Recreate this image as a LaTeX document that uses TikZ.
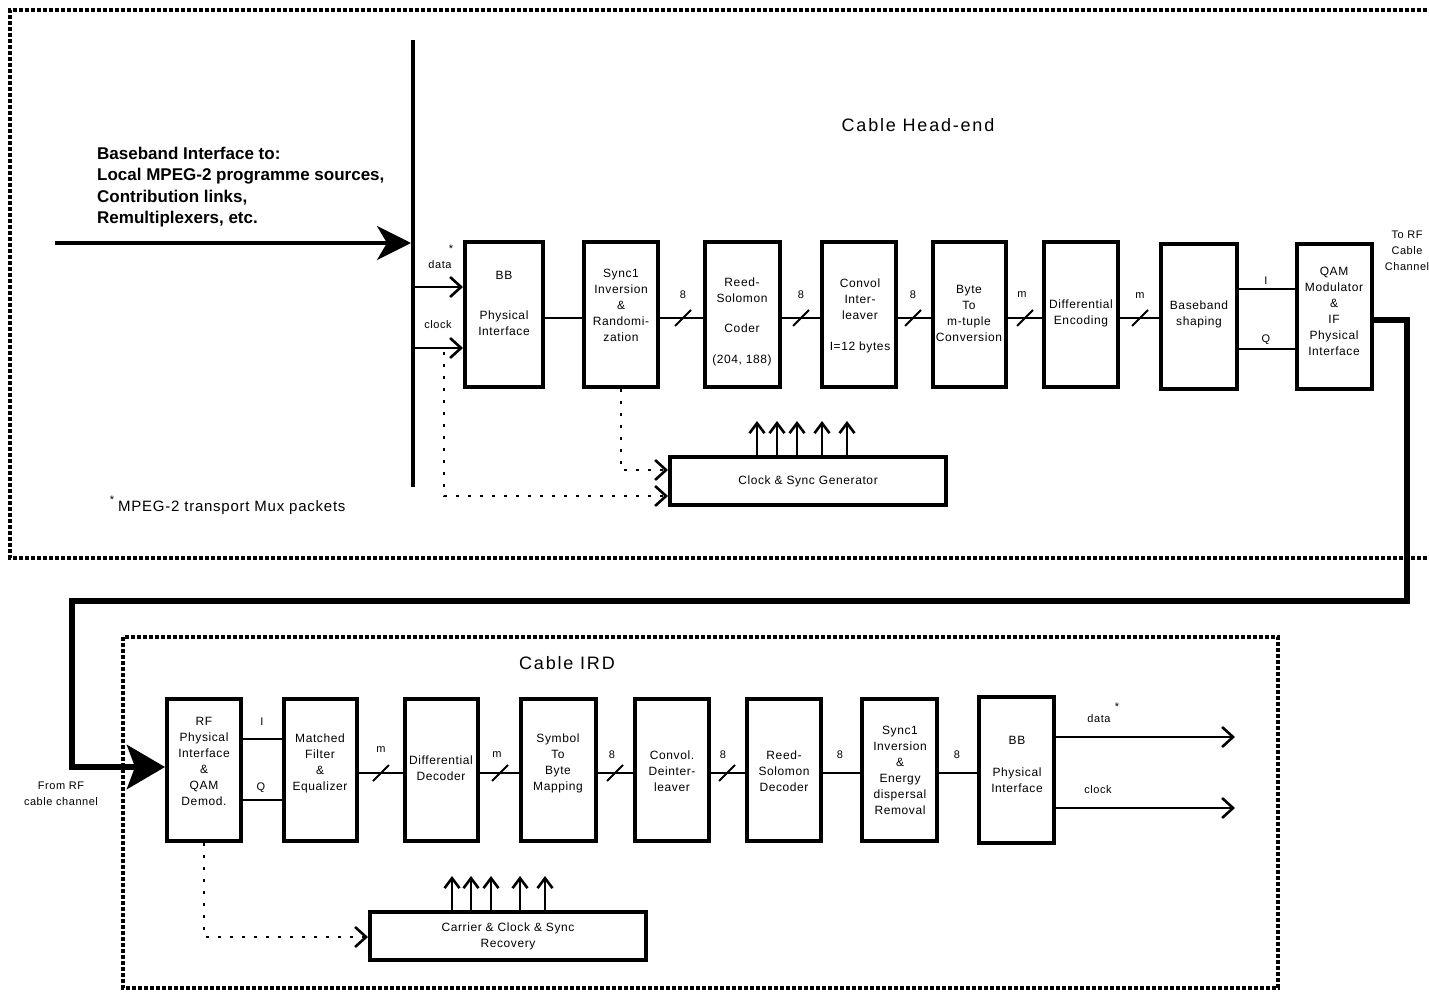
\documentclass[tikz,border=0pt]{standalone}
\usepackage{fontspec}
\setmainfont{Liberation Sans}
\newfontfamily\spfont{Liberation Sans}[LetterSpace=5]
\newfontfamily\ttlfont{Liberation Sans}[LetterSpace=10]
\usetikzlibrary{arrows.meta}
\newcommand\mybox[6]{\node[blk,minimum width={(#4)-(#2)-4},minimum height={(#5)-(#3)-4}] (#1) at ({((#2)+(#4))/2},{((#3)+(#5))/2}) {#6};}
\newcommand\tick[2]{\draw[conn] (#1,#2) ++(-8,8) -- ++(16,-16);}
\begin{document}
\begin{tikzpicture}[x=1pt,y=-1pt,
  blk/.style={draw,line width=4pt,inner sep=0pt,align=center,font=\spfont\fontsize{12}{16}\selectfont},
  txt/.style={align=center,font=\spfont\fontsize{12}{16}\selectfont,inner sep=0pt},
  sm/.style={align=center,font=\spfont\fontsize{11}{16}\selectfont,inner sep=0pt},
  note/.style={font=\spfont\fontsize{15}{16}\selectfont,inner sep=0pt},
  ttl/.style={font=\ttlfont\fontsize{18}{20}\selectfont,inner sep=0pt},
  boldtxt/.style={align=left,font=\bfseries\fontsize{17}{21.5}\selectfont,inner sep=0pt},
  conn/.style={line width=1.8pt},
  barb/.style={-{Straight Barb[length=11pt,width=20pt,line width=2.6pt]}},
  upar/.style={line width=1.5pt,-{Straight Barb[length=10pt,width=15pt,line width=2.6pt]}},
  dotl/.style={line width=1.8pt,dash pattern=on 3pt off 9pt},
  frame/.style={line width=4.5pt,dash pattern=on 4pt off 2pt},
  big/.style={line width=4pt,-{Stealth[length=34pt,width=34pt,inset=10pt]}},
  thk/.style={line width=6pt,line join=miter,-{Stealth[length=38pt,width=44pt,inset=8pt]}},
]
\useasboundingbox (0,0) rectangle (1429,992);
\clip (0,0) rectangle (1429,992);

% frames
\draw[frame] (1445,10) -- (10,10) -- (10,558) -- (1445,558);
\draw[frame] (123,637) rectangle (1278,988);

\node[ttl] (t1) at (918,125) {Cable Head-end};
\node[ttl] (t2) at (567,663) {Cable IRD};

\node[boldtxt,anchor=west] (src) at (97,187) {Baseband Interface to:\\Local MPEG-2 programme sources,\\Contribution links,\\Remultiplexers, etc.};

% bar and input
\coordinate (bartop) at (413,40);
\coordinate (barbot) at (413,487);
\draw[line width=4pt] (bartop) -- (barbot);
\coordinate (in) at (55,243);
\coordinate (bin) at (411,243);
\draw[big] (in) -- (bin);

% top boxes
\mybox{bb}{463}{240}{545}{389}{}
\mybox{sy}{582}{240}{660}{389}{}
\mybox{rs}{703}{240}{782}{389}{}
\mybox{cv}{820}{240}{898}{389}{}
\mybox{bt}{931}{240}{1008}{389}{}
\mybox{de}{1042}{240}{1120}{389}{}
\mybox{bs}{1159}{242}{1239}{391}{}
\mybox{qm}{1295}{242}{1374}{391}{}

\node[txt] (bbT) at (504,303) {BB\\[24pt]Physical\\Interface};
\node[txt] (syT) at (621,305) {Sync1\\Inversion\\\&\\Randomi-\\zation};
\node[txt] (rsT) at (742,322) {Reed-\\Solomon\\[14pt]Coder\\[15pt](204, 188)};
\node[txt] (cvT) at (860,316) {Convol\\Inter-\\leaver\\[15pt]I=12 bytes};
\node[txt] (btT) at (969,313) {Byte\\To\\m-tuple\\Conversion};
\node[txt] (deT) at (1081,313) {Differential\\Encoding};
\node[txt] (bsT) at (1199,314) {Baseband\\shaping};
\node[txt] (qmT) at (1334,311) {QAM\\Modulator\\\&\\IF\\Physical\\Interface};

\coordinate (ml) at (0,318);
\draw[conn] (bb.east |- ml) -- (sy.west |- ml);
\draw[conn] (sy.east |- ml) -- (rs.west |- ml);
\draw[conn] (rs.east |- ml) -- (cv.west |- ml);
\draw[conn] (cv.east |- ml) -- (bt.west |- ml);
\draw[conn] (bt.east |- ml) -- (de.west |- ml);
\draw[conn] (de.east |- ml) -- (bs.west |- ml);
\coordinate (iy) at (0,289);
\coordinate (qy) at (0,349);
\draw[conn] (bs.east |- iy) -- (qm.west |- iy);
\draw[conn] (bs.east |- qy) -- (qm.west |- qy);
\tick{683}{318}\tick{801}{318}\tick{913}{318}\tick{1025}{318}\tick{1140}{318}
\node[sm] (l1) at (683,295) {8};
\node[sm] (l2) at (801,295) {8};
\node[sm] (l3) at (913,295) {8};
\node[sm] (l4) at (1022,295) {m};
\node[sm] (l5) at (1140,296) {m};
\node[sm] (l6) at (1266,281) {I};
\node[sm] (l7) at (1266,340) {Q};

% data / clock in
\coordinate (bd) at (413,287);
\coordinate (bc) at (413,348);
\draw[conn,barb] (bd) -- (bb.west |- bd);
\draw[conn,barb] (bc) -- (bb.west |- bc);
\node[sm] (dl) at (440,265) {data};
\node[sm] (ds) at (451,249) {*};
\node[sm] (cl) at (438,325) {clock};

% clock generator
\mybox{clk}{668}{455}{948}{507}{Clock \& Sync Generator}
\coordinate (dst) at (444,352);
\coordinate (c1) at (0,496);
\coordinate (c2) at (0,470);
\draw[dotl,barb] (dst) |- (clk.west |- c1);
\draw[dotl,barb] (sy.south) |- (clk.west |- c2);
\foreach \x in {757,777,797,822,847} \draw[upar] (clk.north -| \x,0) -- ++(0,-34);

\node[sm] (fs) at (112,500) {*};
\node[note,anchor=west] (fn) at (118,508) {MPEG-2 transport Mux packets};

\node[sm] (torf) at (1407,251) {To RF\\Cable\\Channel};
\node[sm] (fromrf) at (61,794) {From RF\\cable channel};

% thick link
\coordinate (qo) at (0,320);
\coordinate (r1) at (1407,320);
\coordinate (r2) at (1407,601);
\coordinate (r3) at (72,601);
\coordinate (r4) at (72,767);

% bottom boxes
\mybox{rf}{165}{697}{243}{843}{}
\mybox{mf}{282}{697}{359}{843}{}
\mybox{dd}{403}{697}{480}{843}{}
\mybox{sm}{519}{697}{598}{843}{}
\mybox{cd}{633}{697}{711}{843}{}
\mybox{rd}{745}{697}{823}{843}{}
\mybox{se}{860}{697}{939}{843}{}
\mybox{bbb}{977}{695}{1056}{845}{}

\draw[thk] (qm.east |- qo) -- (r1) -- (r2) -- (r3) -- (r4) -- (rf.west |- r4);

\node[txt] (rfT) at (204,761) {RF\\Physical\\Interface\\\&\\QAM\\Demod.};
\node[txt] (mfT) at (320,763) {Matched\\Filter\\\&\\Equalizer};
\node[txt] (ddT) at (441,768) {Differential\\Decoder};
\node[txt] (smT) at (558,763) {Symbol\\To\\Byte\\Mapping};
\node[txt] (cdT) at (672,771) {Convol.\\Deinter-\\leaver};
\node[txt] (rdT) at (784,771) {Reed-\\Solomon\\Decoder};
\node[txt] (seT) at (900,770) {Sync1\\Inversion\\\&\\Energy\\dispersal\\Removal};
\node[txt] (bbbT) at (1017,764) {BB\\[16pt]Physical\\Interface};

\coordinate (ml2) at (0,773);
\coordinate (iy2) at (0,739);
\coordinate (qy2) at (0,800);
\draw[conn] (rf.east |- iy2) -- (mf.west |- iy2);
\draw[conn] (rf.east |- qy2) -- (mf.west |- qy2);
\draw[conn] (mf.east |- ml2) -- (dd.west |- ml2);
\draw[conn] (dd.east |- ml2) -- (sm.west |- ml2);
\draw[conn] (sm.east |- ml2) -- (cd.west |- ml2);
\draw[conn] (cd.east |- ml2) -- (rd.west |- ml2);
\draw[conn] (rd.east |- ml2) -- (se.west |- ml2);
\draw[conn] (se.east |- ml2) -- (bbb.west |- ml2);
\tick{381}{773}\tick{500}{773}\tick{615}{773}\tick{727}{773}
\node[sm] (b1) at (381,750) {m};
\node[sm] (b2) at (497,755) {m};
\node[sm] (b3) at (612,755) {8};
\node[sm] (b4) at (723,755) {8};
\node[sm] (b5) at (840,755) {8};
\node[sm] (b6) at (957,755) {8};
\node[sm] (b7) at (262,722) {I};
\node[sm] (b8) at (261,788) {Q};

% outputs
\coordinate (dout) at (1235,737);
\coordinate (cout) at (1235,808);
\draw[conn,barb] (bbb.east |- dout) -- (dout);
\draw[conn,barb] (bbb.east |- cout) -- (cout);
\node[sm] (odl) at (1099,719) {data};
\node[sm] (ods) at (1117,707) {*};
\node[sm] (ocl) at (1098,790) {clock};

% recovery
\mybox{rec}{368}{910}{648}{962}{Carrier \& Clock \& Sync\\Recovery}
\coordinate (c3) at (0,937);
\draw[dotl,barb] (rf.south) |- (rec.west |- c3);
\foreach \x in {452,471,491,520,545} \draw[upar] (rec.north -| \x,0) -- ++(0,-34);
\end{tikzpicture}
\end{document}
